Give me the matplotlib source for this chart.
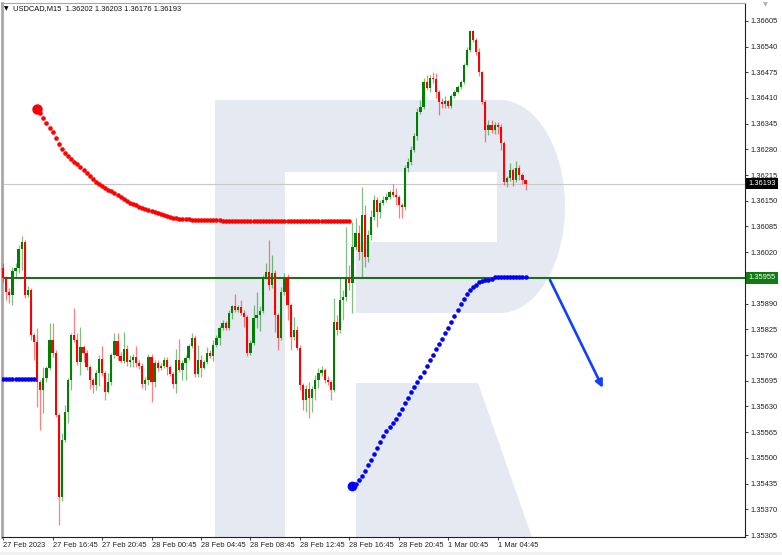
import matplotlib
matplotlib.use("Agg")
import matplotlib.pyplot as plt
import matplotlib.transforms as mtransforms
from matplotlib.patches import Polygon
import numpy as np

# ---------------- data ----------------
symbol = "USDCAD,M15"
first_open = 1.35980
close = [1.35955, 1.35920, 1.35912, 1.35972, 1.35980, 1.36028, 1.36046, 1.35912, 1.35925, 1.35810,
         1.35793, 1.35692, 1.35672, 1.35702, 1.35728, 1.35798, 1.35765, 1.35608, 1.35401, 1.35545,
         1.35616, 1.35697, 1.35810, 1.35798, 1.35743, 1.35780, 1.35765, 1.35730, 1.35697, 1.35684,
         1.35714, 1.35750, 1.35714, 1.35667, 1.35692, 1.35760, 1.35795, 1.35758, 1.35745, 1.35775,
         1.35743, 1.35748, 1.35755, 1.35740, 1.35733, 1.35687, 1.35697, 1.35755, 1.35692, 1.35740,
         1.35728, 1.35733, 1.35748, 1.35730, 1.35712, 1.35687, 1.35748, 1.35722, 1.35740, 1.35753,
         1.35783, 1.35803, 1.35712, 1.35748, 1.35728, 1.35743, 1.35765, 1.35758, 1.35785, 1.35803,
         1.35829, 1.35841, 1.35829, 1.35866, 1.35884, 1.35874, 1.35881, 1.35866, 1.35856, 1.35765,
         1.35790, 1.35854, 1.35861, 1.35871, 1.35957, 1.35970, 1.35937, 1.35967, 1.35861, 1.35803,
         1.35920, 1.35957, 1.35886, 1.35805, 1.35823, 1.35778, 1.35684, 1.35646, 1.35674, 1.35651,
         1.35674, 1.35697, 1.35714, 1.35722, 1.35697, 1.35692, 1.35672, 1.35844, 1.35823, 1.35899,
         1.35907, 1.35955, 1.35942, 1.36033, 1.36069, 1.36021, 1.36114, 1.36008, 1.36064, 1.36109,
         1.36152, 1.36122, 1.36145, 1.36152, 1.36160, 1.36172, 1.36165, 1.36160, 1.36140, 1.36134,
         1.36233, 1.36248, 1.36279, 1.36314, 1.36375, 1.36387, 1.36451, 1.36436, 1.36461, 1.36458,
         1.36425, 1.36400, 1.36395, 1.36402, 1.36390, 1.36415, 1.36425, 1.36438, 1.36451, 1.36494,
         1.36531, 1.36580, 1.36557, 1.36526, 1.36476, 1.36400, 1.36329, 1.36342, 1.36329, 1.36342,
         1.36337, 1.36296, 1.36198, 1.36208, 1.36228, 1.36203, 1.36233, 1.36215, 1.36202, 1.36193]
high = [1.35993, 1.35960, 1.35930, 1.35982, 1.35993, 1.36038, 1.36061, 1.36051, 1.35935, 1.35930,
        1.35815, 1.35829, 1.35697, 1.35730, 1.35733, 1.35841, 1.35841, 1.35773, 1.35613, 1.35562,
        1.35633, 1.35702, 1.35815, 1.35879, 1.35815, 1.35831, 1.35785, 1.35773, 1.35735, 1.35702,
        1.35722, 1.35760, 1.35783, 1.35720, 1.35714, 1.35765, 1.35815, 1.35815, 1.35768, 1.35818,
        1.35785, 1.35760, 1.35763, 1.35783, 1.35748, 1.35740, 1.35704, 1.35763, 1.35763, 1.35748,
        1.35748, 1.35740, 1.35755, 1.35755, 1.35735, 1.35717, 1.35775, 1.35801, 1.35748, 1.35760,
        1.35788, 1.35815, 1.35810, 1.35785, 1.35760, 1.35748, 1.35780, 1.35773, 1.35798, 1.35810,
        1.35834, 1.35849, 1.35846, 1.35874, 1.35886, 1.35915, 1.35886, 1.35899, 1.35874, 1.35861,
        1.35798, 1.35886, 1.35920, 1.35884, 1.35962, 1.35993, 1.36051, 1.36013, 1.35975, 1.35866,
        1.35932, 1.35967, 1.35965, 1.35891, 1.35856, 1.35834, 1.35785, 1.35689, 1.35684, 1.35692,
        1.35682, 1.35709, 1.35728, 1.35733, 1.35728, 1.35707, 1.35697, 1.35905, 1.35861, 1.35955,
        1.35925, 1.36084, 1.35988, 1.36097, 1.36107, 1.36089, 1.36185, 1.36140, 1.36076, 1.36127,
        1.36165, 1.36160, 1.36152, 1.36162, 1.36170, 1.36177, 1.36193, 1.36183, 1.36165, 1.36145,
        1.36241, 1.36258, 1.36289, 1.36321, 1.36385, 1.36405, 1.36461, 1.36468, 1.36468, 1.36476,
        1.36473, 1.36430, 1.36410, 1.36415, 1.36405, 1.36420, 1.36430, 1.36443, 1.36456, 1.36499,
        1.36539, 1.36582, 1.36582, 1.36562, 1.36537, 1.36478, 1.36405, 1.36354, 1.36354, 1.36349,
        1.36349, 1.36344, 1.36301, 1.36213, 1.36246, 1.36233, 1.36251, 1.36241, 1.36220, 1.36203]
low = [1.35945, 1.35899, 1.35891, 1.35886, 1.35957, 1.35967, 1.35975, 1.35905, 1.35907, 1.35798,
       1.35748, 1.35628, 1.35570, 1.35613, 1.35692, 1.35722, 1.35755, 1.35603, 1.35330, 1.35390,
       1.35540, 1.35588, 1.35672, 1.35793, 1.35735, 1.35709, 1.35743, 1.35722, 1.35674, 1.35664,
       1.35672, 1.35682, 1.35707, 1.35646, 1.35664, 1.35684, 1.35753, 1.35748, 1.35740, 1.35740,
       1.35733, 1.35730, 1.35730, 1.35730, 1.35725, 1.35677, 1.35672, 1.35684, 1.35641, 1.35679,
       1.35720, 1.35722, 1.35728, 1.35709, 1.35707, 1.35677, 1.35664, 1.35717, 1.35697, 1.35697,
       1.35748, 1.35778, 1.35704, 1.35704, 1.35704, 1.35725, 1.35738, 1.35753, 1.35745, 1.35780,
       1.35785, 1.35823, 1.35823, 1.35823, 1.35851, 1.35869, 1.35869, 1.35861, 1.35831, 1.35758,
       1.35760, 1.35785, 1.35829, 1.35821, 1.35866, 1.35952, 1.35925, 1.35930, 1.35818, 1.35773,
       1.35798, 1.35912, 1.35849, 1.35773, 1.35798, 1.35773, 1.35672, 1.35621, 1.35616, 1.35601,
       1.35616, 1.35646, 1.35677, 1.35707, 1.35689, 1.35684, 1.35646, 1.35667, 1.35810, 1.35815,
       1.35849, 1.35896, 1.35925, 1.35866, 1.36026, 1.36000, 1.35957, 1.35982, 1.35995, 1.36051,
       1.36102, 1.36084, 1.36107, 1.36140, 1.36147, 1.36155, 1.36160, 1.36140, 1.36107, 1.36107,
       1.36127, 1.36223, 1.36241, 1.36274, 1.36304, 1.36370, 1.36382, 1.36430, 1.36425, 1.36448,
       1.36410, 1.36367, 1.36385, 1.36385, 1.36385, 1.36385, 1.36410, 1.36422, 1.36433, 1.36446,
       1.36491, 1.36526, 1.36552, 1.36519, 1.36466, 1.36395, 1.36299, 1.36316, 1.36321, 1.36319,
       1.36319, 1.36279, 1.36190, 1.36185, 1.36200, 1.36187, 1.36198, 1.36203, 1.36193, 1.36176]

# indicator lines (bar index of first value, values)
red_start = 11
red_line = [1.36382, 1.36372, 1.36360, 1.36346, 1.36334, 1.36324, 1.36309, 1.36294, 1.36281, 1.36271,
            1.36264, 1.36256, 1.36248, 1.36243, 1.36235, 1.36228, 1.36220, 1.36213, 1.36205, 1.36198,
            1.36193, 1.36188, 1.36183, 1.36177, 1.36175, 1.36170, 1.36165, 1.36160, 1.36155, 1.36150,
            1.36144, 1.36142, 1.36139, 1.36134, 1.36132, 1.36129, 1.36127, 1.36124, 1.36122, 1.36119,
            1.36117, 1.36114, 1.36112, 1.36109, 1.36107, 1.36107, 1.36104, 1.36104, 1.36104, 1.36104,
            1.36102, 1.36102, 1.36102, 1.36102, 1.36102, 1.36102, 1.36102, 1.36102, 1.36102, 1.36102,
            1.36099, 1.36099, 1.36099, 1.36099, 1.36099, 1.36099, 1.36099, 1.36099, 1.36099, 1.36099,
            1.36099, 1.36099, 1.36099, 1.36099, 1.36099, 1.36099, 1.36099, 1.36099, 1.36099, 1.36099,
            1.36099, 1.36099, 1.36099, 1.36099, 1.36099, 1.36099, 1.36099, 1.36099, 1.36099, 1.36099,
            1.36099, 1.36099, 1.36099, 1.36099, 1.36099, 1.36099, 1.36099, 1.36099, 1.36099, 1.36099,
            1.36099, 1.36099]
blue_left_start = 0
blue_left = [1.35699, 1.35699, 1.35699, 1.35699, 1.35699, 1.35699, 1.35699, 1.35699, 1.35699, 1.35699, 1.35699]
blue_start = 113
blue_line = [1.35429, 1.35434, 1.35444, 1.35454, 1.35466, 1.35482, 1.35495, 1.35510, 1.35525, 1.35540,
             1.35555, 1.35567, 1.35578, 1.35588, 1.35598, 1.35611, 1.35623, 1.35638, 1.35652, 1.35667,
             1.35679, 1.35692, 1.35704, 1.35717, 1.35733, 1.35748, 1.35760, 1.35775, 1.35788, 1.35800,
             1.35815, 1.35829, 1.35844, 1.35859, 1.35874, 1.35889, 1.35902, 1.35915, 1.35925, 1.35932,
             1.35937, 1.35945, 1.35947, 1.35950, 1.35950, 1.35952, 1.35957, 1.35957, 1.35957, 1.35957,
             1.35957, 1.35957, 1.35957, 1.35957, 1.35957, 1.35957, 1.35957]

level_price = 1.35955
current_price = close[-1]
arrow_from = (176.9, 1.35950)
arrow_to = (194.0, 1.35677)

x_tick_bars = [0, 16, 32, 48, 64, 80, 96, 112, 128, 144, 160]
x_tick_labels = ["27 Feb 2023", "27 Feb 16:45", "27 Feb 20:45", "28 Feb 00:45", "28 Feb 04:45",
                 "28 Feb 08:45", "28 Feb 12:45", "28 Feb 16:45", "28 Feb 20:45", "1 Mar 00:45", "1 Mar 04:45"]
y_ticks = [1.35305, 1.35370, 1.35435, 1.35500, 1.35565, 1.35630, 1.35695, 1.35760, 1.35825, 1.35890,
           1.35955, 1.36020, 1.36085, 1.36150, 1.36215, 1.36280, 1.36345, 1.36410, 1.36475, 1.36540, 1.36605]

# ---------------- figure ----------------
W, H = 782, 555
fig = plt.figure(figsize=(W / 100, H / 100), dpi=100)
fig.patch.set_facecolor("white")
ax = fig.add_axes([1.6 / W, 18 / H, 743.4 / W, 534 / H])
ax.set_facecolor("white")
ax.set_xlim(-0.5, 240)
ax.set_ylim(1.35300, 1.36650)

FONT = "Liberation Sans"
FS = 5.4

# watermark (RoboForex style R), in axes fraction computed from pixel geometry
def A(X, Y):
    return ((X - 1.6) / 743.4, (537 - Y) / 534)

wm = "#e5eaf2"
t = np.linspace(np.pi / 2, -np.pi / 2, 40)
arc = [A(500 + 65 * np.cos(a), 206.5 - 106.5 * np.sin(a)) for a in t]
bowl = [A(215, 540), A(215, 100)] + arc + [A(356, 313), A(356, 242), A(497, 242),
                                          A(497, 172), A(285, 172), A(285, 540)]
ax.add_patch(Polygon(bowl, closed=True, transform=ax.transAxes, fc=wm, ec="none", zorder=0))
leg = [A(356, 383), A(478, 383), A(533, 540), A(356, 540)]
ax.add_patch(Polygon(leg, closed=True, transform=ax.transAxes, fc=wm, ec="none", zorder=0))

# horizontal lines
ax.axhline(current_price, color="#c8c8c8", lw=0.8, zorder=1)
ax.axhline(level_price, color="#1e6e1e", lw=1.5, zorder=2)

# candles
c = np.array(close)
o = np.array([first_open] + close[:-1])
h = np.maximum(np.array(high), np.maximum(o, c))
l = np.minimum(np.array(low), np.minimum(o, c))
x = np.arange(len(c))
up = c >= o
cols = np.where(up, "#008000", "#ff0000")
ax.vlines(x, l, h, colors=cols, lw=0.9, alpha=0.5, zorder=3)
body = np.maximum(np.abs(c - o), 0.000025)
ax.bar(x, body, bottom=np.minimum(o, c), width=0.72, color=cols, lw=0, zorder=4)

# indicator dots
xr = np.arange(red_start, red_start + len(red_line))
ax.plot(xr, red_line, "o", ms=3.3, color="#ff0000", mec="none", zorder=5)
ax.plot(xr[:1], red_line[:1], "o", ms=7.5, color="#ff0000", mec="none", zorder=5)
xbl = np.arange(blue_left_start, blue_left_start + len(blue_left))
ax.plot(xbl, blue_left, "o", ms=3.3, color="#0000ff", mec="none", zorder=5)
xb = np.arange(blue_start, blue_start + len(blue_line))
ax.plot(xb, blue_line, "o", ms=3.3, color="#0000ff", mec="none", zorder=5)
ax.plot(xb[:1], blue_line[:1], "o", ms=7, color="#0000ff", mec="none", zorder=5)

# forecast arrow
ax.annotate("", xy=arrow_to, xytext=arrow_from,
            arrowprops=dict(arrowstyle="-|>", color="#1040ff", lw=1.9, mutation_scale=11,
                            shrinkA=0, shrinkB=0), zorder=6)

# axes styling
for side in ["left", "top"]:
    ax.spines[side].set_color("#a8a8a8")
ax.spines["left"].set_linewidth(2.0)
ax.spines["top"].set_linewidth(0.8)
for side in ["right", "bottom"]:
    ax.spines[side].set_color("#202020")
    ax.spines[side].set_linewidth(0.8)

ax.yaxis.tick_right()
ax.set_yticks(y_ticks)
ax.set_yticklabels(["" if abs(v - level_price) < 1e-7 else f"{v:.5f}" for v in y_ticks])
ax.set_xticks(x_tick_bars)
ax.set_xticklabels(x_tick_labels)
ax.tick_params(axis="y", direction="out", length=2, width=0.6, pad=1.6, colors="#202020",
               labelsize=FS)
ax.tick_params(axis="x", direction="out", length=2.4, width=0.6, pad=1.0, colors="#202020",
               labelsize=FS)
for lbl in ax.get_xticklabels() + ax.get_yticklabels():
    lbl.set_fontfamily(FONT)
for lbl in ax.get_xticklabels():
    lbl.set_horizontalalignment("left")

# price boxes on the right scale
tr = mtransforms.blended_transform_factory(ax.transAxes, ax.transData)
ax.text(1.0 + 3.5 / 743.4, current_price, f"{current_price:.5f}", transform=tr, ha="left", va="center",
        color="white", fontsize=FS, family=FONT, clip_on=False, zorder=10,
        bbox=dict(boxstyle="square,pad=0.28", fc="black", ec="none"))
ax.text(1.0 + 3.5 / 743.4, level_price, f"{level_price:.5f}", transform=tr, ha="left", va="center",
        color="white", fontsize=FS, family=FONT, clip_on=False, zorder=10,
        bbox=dict(boxstyle="square,pad=0.28", fc="#127a12", ec="none"))

# header
fig.text(3.5 / W, 1 - 8.5 / H, "\u25bc", fontsize=4.2, color="black", va="center", ha="left",
         family="DejaVu Sans")
fig.text(13 / W, 1 - 8.5 / H,
         f"{symbol}  {o[-1]:.5f} {h[-1]:.5f} {l[-1]:.5f} {c[-1]:.5f}",
         fontsize=FS, color="#101010", va="center", ha="left", family=FONT)
fig.text(765 / W, 1 - 5 / H, "\u25bc", fontsize=4.5, color="#b0b0b0", va="center", ha="center",
         family="DejaVu Sans")

# bottom grey strip
fig.add_artist(plt.Rectangle((0, 0), 1, 3 / H, transform=fig.transFigure, fc="#f0f0f0", ec="none"))

fig.savefig("out.png", dpi=100)
